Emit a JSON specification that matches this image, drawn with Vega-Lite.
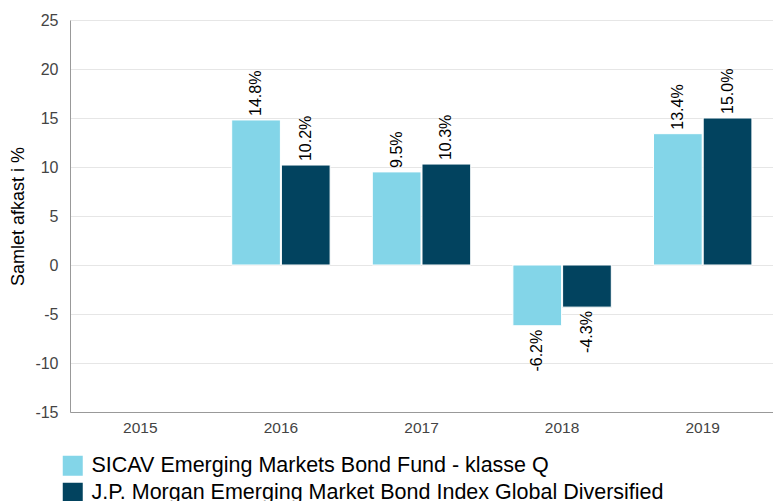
{
  "$schema": "https://vega.github.io/schema/vega-lite/v6.json",
  "width": 703,
  "height": 392,
  "autosize": "none",
  "padding": {"left": 70, "top": 20, "right": 0, "bottom": 89},
  "background": "white",
  "config": {
    "font": "Liberation Sans",
    "view": {"stroke": null}
  },
  "data": {
    "values": [
      {"year": "2016", "series": "SICAV Emerging Markets Bond Fund - klasse Q", "value": 14.8, "label": "14.8%"},
      {"year": "2016", "series": "J.P. Morgan Emerging Market Bond Index Global Diversified", "value": 10.2, "label": "10.2%"},
      {"year": "2017", "series": "SICAV Emerging Markets Bond Fund - klasse Q", "value": 9.5, "label": "9.5%"},
      {"year": "2017", "series": "J.P. Morgan Emerging Market Bond Index Global Diversified", "value": 10.3, "label": "10.3%"},
      {"year": "2018", "series": "SICAV Emerging Markets Bond Fund - klasse Q", "value": -6.2, "label": "-6.2%"},
      {"year": "2018", "series": "J.P. Morgan Emerging Market Bond Index Global Diversified", "value": -4.3, "label": "-4.3%"},
      {"year": "2019", "series": "SICAV Emerging Markets Bond Fund - klasse Q", "value": 13.4, "label": "13.4%"},
      {"year": "2019", "series": "J.P. Morgan Emerging Market Bond Index Global Diversified", "value": 15.0, "label": "15.0%"}
    ]
  },
  "encoding": {
    "x": {
      "field": "year", "type": "nominal",
      "scale": {"domain": ["2015", "2016", "2017", "2018", "2019"], "paddingInner": 0.3, "paddingOuter": 0.15},
      "axis": {"title": null, "labelAngle": 0, "labelFontSize": 15.5, "labelColor": "#444444", "ticks": false, "domainColor": "#999999", "labelPadding": 8, "grid": false}
    },
    "xOffset": {
      "field": "series", "type": "nominal",
      "scale": {"domain": ["SICAV Emerging Markets Bond Fund - klasse Q", "J.P. Morgan Emerging Market Bond Index Global Diversified"], "paddingInner": 0.02}
    },
    "y": {
      "field": "value", "type": "quantitative",
      "scale": {"domain": [-15, 25], "nice": false},
      "axis": {"title": "Samlet afkast i %", "titleFontSize": 18, "titleFontWeight": "normal", "titleColor": "#000000", "titlePadding": 7,
               "values": [-15, -10, -5, 0, 5, 10, 15, 20, 25], "labelExpr": "replace(datum.label, '\u2212', '-')",
               "labelFontSize": 16, "labelColor": "#444444", "ticks": false,
               "labelPadding": 12, "domainColor": "#999999", "gridColor": "#e6e6e6"}
    }
  },
  "layer": [
    {
      "mark": {"type": "bar", "stroke": "white", "strokeWidth": 1},
      "encoding": {
        "color": {
          "field": "series", "type": "nominal",
          "scale": {"domain": ["SICAV Emerging Markets Bond Fund - klasse Q", "J.P. Morgan Emerging Market Bond Index Global Diversified"], "range": ["#83d5e8", "#02435f"]},
          "legend": {"title": null, "orient": "none", "legendX": -8, "legendY": 435, "symbolType": "square", "symbolSize": 400,
                     "symbolStrokeWidth": 0, "labelFontSize": 21.5, "labelColor": "#000000", "labelOffset": 8, "rowPadding": 4, "labelLimit": 700}
        }
      }
    },
    {
      "transform": [{"filter": "datum.value >= 0"}],
      "mark": {"type": "text", "angle": 270, "align": "left", "baseline": "middle", "dx": 4, "fontSize": 16, "color": "#000000"},
      "encoding": {"text": {"field": "label"}}
    },
    {
      "transform": [{"filter": "datum.value < 0"}],
      "mark": {"type": "text", "angle": 270, "align": "right", "baseline": "middle", "dx": -4, "fontSize": 16, "color": "#000000"},
      "encoding": {"text": {"field": "label"}}
    }
  ]
}
